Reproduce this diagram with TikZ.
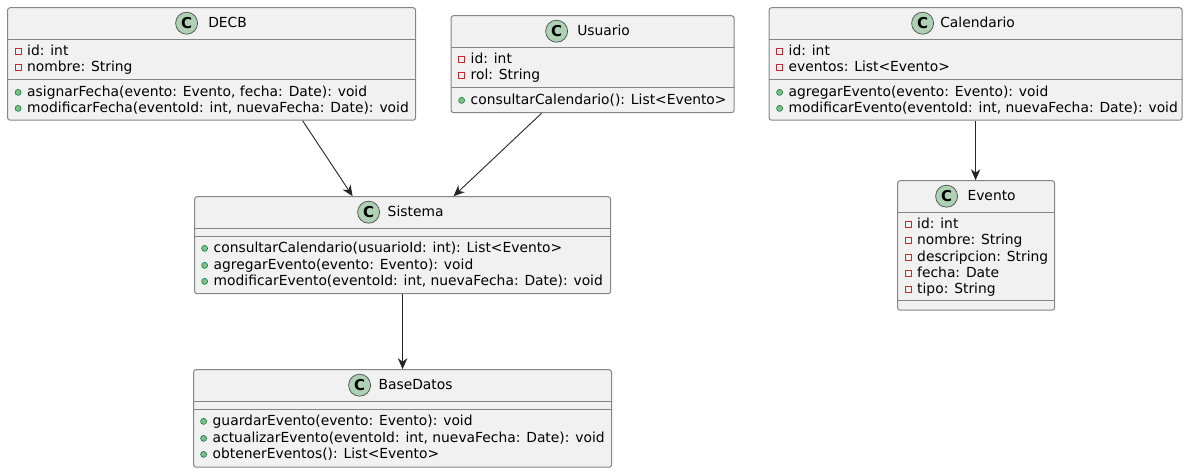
\documentclass[tikz,border=0pt]{standalone}
\usepackage{fontspec}
\setmainfont{DejaVu Sans}
\setsansfont{DejaVu Sans}
\usetikzlibrary{arrows.meta}
\definecolor{boxfill}{HTML}{F1F1F1}
\definecolor{boxline}{HTML}{858585}
\definecolor{iconfill}{HTML}{ADD1B2}
\definecolor{privline}{HTML}{C82930}
\definecolor{pubfill}{HTML}{84BE84}
\definecolor{publine}{HTML}{038048}
\tikzset{
  x=1pt,y=-1pt,
  classbox/.style={draw=boxline,fill=boxfill,line width=1pt,rounded corners=2.5pt,inner sep=0,anchor=north west},
  divider/.style={draw=boxline,line width=1pt},
  badge/.style={circle,draw=black!70,fill=iconfill,line width=0.7pt,minimum size=22pt,inner sep=0,font=\fontsize{15}{15}\sffamily\bfseries},
  title/.style={inner sep=0,anchor=base,font=\fontsize{13.85}{14}\selectfont},
  member/.style={inner sep=0,anchor=base west,font=\fontsize{13.85}{14}\selectfont},
  privmark/.style={draw=privline,line width=1pt,minimum size=6pt,inner sep=0},
  pubmark/.style={circle,draw=publine,fill=pubfill,line width=0.6pt,minimum size=6pt,inner sep=0},
  link/.style={draw=black!85,line width=0.9pt,-{Stealth[length=11pt,width=9.5pt,inset=3.5pt]}},
}
\newcommand{\klass}[6]{% name, x, y, w, h, head y
  \node[classbox,minimum width=#4pt,minimum height=#5pt] (#1) at (#2,#3) {};
  \draw[divider] (#1.north west |- 0,#6) -- (#1.north east |- 0,#6);
}
\newcommand{\priv}[4]{% name,x,baseline,text
  \node[privmark] (#1m) at (#2,#3-4.3) {};
  \node[member] (#1) at (#2+8.9,#3) {#4};
}
\newcommand{\publ}[4]{%
  \node[pubmark] (#1m) at (#2,#3-4.3) {};
  \node[member] (#1) at (#2+8.9,#3) {#4};
}
\begin{document}
\begin{tikzpicture}
\useasboundingbox (0,0) rectangle (1190,472);
\begin{scope}[shift={(-0.4,-0.3)}]

% DECB
\klass{decb}{7.5}{7.5}{408}{112.5}{39.5}
\node[badge] (decbicon) at (187,23.5) {C};
\node[title] (decbname) at (228,28) {DECB};
\draw[divider] (decb.west |- 0,79.5) -- (decb.east |- 0,79.5);
\priv{decba}{18.5}{56}{id: int}
\priv{decbb}{18.5}{72}{nombre: String}
\publ{decbc}{18.5}{97}{asignarFecha(evento: Evento, fecha: Date): void}
\publ{decbd}{18.5}{113}{modificarFecha(eventoId: int, nuevaFecha: Date): void}

% Usuario
\klass{usu}{451}{15.5}{283}{97}{47.5}
\node[badge] (usuicon) at (557,31.5) {C};
\node[title] (usuname) at (604,36) {Usuario};
\draw[divider] (usu.west |- 0,87.5) -- (usu.east |- 0,87.5);
\priv{usua}{462}{64}{id: int}
\priv{usub}{462}{80}{rol: String}
\publ{usuc}{462}{105}{consultarCalendario(): List<Evento>}

% Calendario
\klass{cal}{769}{7.5}{413}{112.5}{39.5}
\node[badge] (calicon) at (923,23.5) {C};
\node[title] (calname) at (978,28) {Calendario};
\draw[divider] (cal.west |- 0,79.5) -- (cal.east |- 0,79.5);
\priv{cala}{780}{56}{id: int}
\priv{calb}{780}{72}{eventos: List<Evento>}
\publ{calc}{780}{97}{agregarEvento(evento: Evento): void}
\publ{cald}{780}{113}{modificarEvento(eventoId: int, nuevaFecha: Date): void}

% Sistema
\klass{sis}{194.5}{196.5}{416}{97}{228.5}
\node[badge] (sisicon) at (369,212.5) {C};
\node[title] (sisname) at (416,217) {Sistema};
\draw[divider] (sis.west |- 0,236.5) -- (sis.east |- 0,236.5);
\publ{sisa}{205}{253}{consultarCalendario(usuarioId: int): List<Evento>}
\publ{sisb}{205}{270}{agregarEvento(evento: Evento): void}
\publ{sisc}{205}{286}{modificarEvento(eventoId: int, nuevaFecha: Date): void}

% BaseDatos
\klass{bd}{193.5}{369.5}{418}{97.5}{401.5}
\node[badge] (bdicon) at (360,385.5) {C};
\node[title] (bdname) at (416,390) {BaseDatos};
\draw[divider] (bd.west |- 0,409.5) -- (bd.east |- 0,409.5);
\publ{bda}{204}{426}{guardarEvento(evento: Evento): void}
\publ{bdb}{204}{443}{actualizarEvento(eventoId: int, nuevaFecha: Date): void}
\publ{bdc}{204}{459}{obtenerEventos(): List<Evento>}

% Evento
\klass{eve}{897.5}{180.5}{157}{129.5}{212.5}
\node[badge] (eveicon) at (947,196.5) {C};
\node[title] (evename) at (992,201) {Evento};
\draw[divider] (eve.west |- 0,301) -- (eve.east |- 0,301);
\priv{evea}{908.5}{229}{id: int}
\priv{eveb}{908.5}{245}{nombre: String}
\priv{evec}{908.5}{262}{descripcion: String}
\priv{eved}{908.5}{278}{fecha: Date}
\priv{evee}{908.5}{294}{tipo: String}

% Connectors
\draw[link] ([xshift=91pt]decb.south) -- ([xshift=-50pt]sis.north);
\draw[link] ([xshift=-51pt]usu.south) -- ([xshift=51pt]sis.north);
\draw[link] (cal.south) -- (eve.north -| cal.south);
\draw[link] (sis.south) -- (bd.north -| sis.south);
\end{scope}
\end{tikzpicture}
\end{document}
